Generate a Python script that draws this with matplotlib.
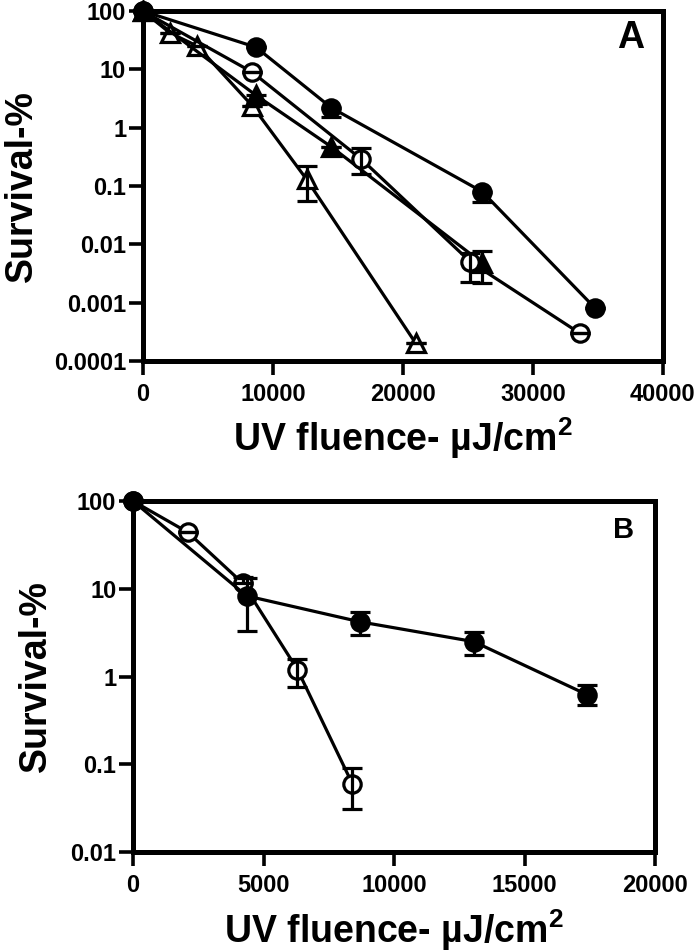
import matplotlib
matplotlib.use("Agg")
import matplotlib.pyplot as plt
from matplotlib.ticker import FixedLocator, NullLocator

plt.rcParams["font.family"] = "Liberation Sans"
plt.rcParams["mathtext.fontset"] = "custom"
plt.rcParams["mathtext.bf"] = "Liberation Sans:bold"
plt.rcParams["mathtext.rm"] = "Liberation Sans:bold"

# panel A
a_fc_x = [0, 8700, 14500, 26100, 34800]
a_fc_y = [100, 24, 2.2, 0.08, 0.0008]
a_fc_lo = [0, 0, 0.7, 0.026, 0]
a_fc_hi = [0, 0, 0, 0, 0]

a_oc_x = [0, 8400, 16800, 25200, 33600]
a_oc_y = [100, 9.0, 0.29, 0.005, 0.0003]
a_oc_lo = [0, 0, 0.13, 0.0027, 0]
a_oc_hi = [0, 0, 0.16, 0.002, 0]

a_ft_x = [0, 8700, 14500, 26100]
a_ft_y = [100, 3.6, 0.47, 0.0048]
a_ft_lo = [0, 1.0, 0, 0.0026]
a_ft_hi = [0, 0, 0, 0.003]

a_ot_x = [0, 2100, 4200, 8400, 12600, 21000]
a_ot_y = [100, 42, 25, 2.4, 0.13, 0.0002]
a_ot_lo = [0, 0, 0, 0, 0.075, 0]
a_ot_hi = [0, 0, 0, 0, 0.09, 0]

# panel B
b_fc_x = [0, 4350, 8700, 13050, 17400]
b_fc_y = [100, 8.3, 4.2, 2.5, 0.62]
b_fc_lo = [0, 5.0, 1.2, 0.75, 0.15]
b_fc_hi = [0, 5.0, 1.3, 0.7, 0.18]

b_oc_x = [0, 2100, 4200, 6300, 8400]
b_oc_y = [100, 44, 11.6, 1.2, 0.06]
b_oc_lo = [0, 0, 0, 0.44, 0.029]
b_oc_hi = [0, 0, 1.9, 0.4, 0.03]

a_yticks = [0.0001, 0.001, 0.01, 0.1, 1, 10, 100]
a_ylabels = ["0.0001", "0.001", "0.01", "0.1", "1", "10", "100"]
a_xticks = [0, 10000, 20000, 30000, 40000]
b_yticks = [0.01, 0.1, 1, 10, 100]
b_ylabels = ["0.01", "0.1", "1", "10", "100"]
b_xticks = [0, 5000, 10000, 15000, 20000]


def series(ax, x, y, lo, hi, marker, filled):
    ax.plot(x, y, color="black", lw=2.3, marker=marker, ms=12.5,
            mfc="black" if filled else "white", mec="black", mew=2.3,
            clip_on=False, zorder=3)
    ax.errorbar(x, y, yerr=[lo, hi], fmt="none", ecolor="black",
                elinewidth=2.3, capsize=7.5, capthick=2.3,
                clip_on=False, zorder=4)


def style(ax, xticks, yticks, ylabels, xmax, ymin, letter, lsize, lpos, ylx):
    ax.set_yscale("log")
    ax.set_xlim(0, xmax)
    ax.set_ylim(ymin, 100)
    ax.yaxis.set_major_locator(FixedLocator(yticks))
    ax.yaxis.set_minor_locator(NullLocator())
    ax.set_yticklabels(ylabels)
    ax.set_xticks(xticks)
    ax.set_xticklabels([str(t) for t in xticks])
    for s in ax.spines.values():
        s.set_linewidth(3.6)
    ax.tick_params(width=2.6, length=10, labelsize=17)
    ax.tick_params(axis="x", pad=6)
    ax.tick_params(axis="y", pad=2)
    for lab in ax.get_xticklabels() + ax.get_yticklabels():
        lab.set_fontweight("bold")
    ax.set_xlabel("UV fluence- µJ/cm$^{\\mathbf{2}}$", fontsize=27,
                  fontweight="bold", va="baseline")
    ax.xaxis.set_label_coords(0.5, -0.258)
    ax.set_ylabel("Survival-%", fontsize=27, fontweight="bold", va="center")
    ax.yaxis.set_label_coords(ylx, 0.5)
    ax.text(lpos[0], lpos[1], letter, transform=ax.transAxes, ha="center",
            va="center", fontsize=lsize, fontweight="bold")


fig = plt.figure(figsize=(7, 9.52), dpi=100)
ax1 = fig.add_axes([0.204, 0.6208, 0.743, 0.3676])
ax2 = fig.add_axes([0.19, 0.105, 0.746, 0.3687])

series(ax1, a_ot_x, a_ot_y, a_ot_lo, a_ot_hi, "^", False)
series(ax1, a_ft_x, a_ft_y, a_ft_lo, a_ft_hi, "^", True)
series(ax1, a_oc_x, a_oc_y, a_oc_lo, a_oc_hi, "o", False)
series(ax1, a_fc_x, a_fc_y, a_fc_lo, a_fc_hi, "o", True)
style(ax1, a_xticks, a_yticks, a_ylabels, 40000, 0.0001, "A", 27,
      (0.937, 0.923), -0.232)

series(ax2, b_oc_x, b_oc_y, b_oc_lo, b_oc_hi, "o", False)
series(ax2, b_fc_x, b_fc_y, b_fc_lo, b_fc_hi, "o", True)
style(ax2, b_xticks, b_yticks, b_ylabels, 20000, 0.01, "B", 21,
      (0.939, 0.917), -0.186)

fig.savefig("out.png", dpi=100)
